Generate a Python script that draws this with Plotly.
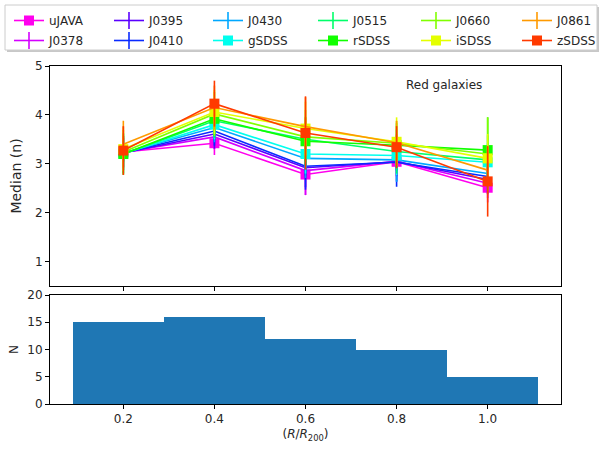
import plotly.graph_objects as go
from plotly.subplots import make_subplots

# ---------------- data ----------------
r_bins = [0.2, 0.4, 0.6, 0.8, 1.0]

filters = ["uJAVA", "J0378", "J0395", "J0410", "J0430", "gSDSS",
           "J0515", "rSDSS", "J0660", "iSDSS", "J0861", "zSDSS"]
broad_bands = ["uJAVA", "gSDSS", "rSDSS", "iSDSS", "zSDSS"]
colors = ["#ff00ee", "#d400ff", "#5a00ff", "#0a2aff", "#00a8ff", "#00ffee",
          "#00ff6a", "#10ff00", "#80ff00", "#e4ff00", "#ff9a00", "#ff3a00"]

median_n = {
    "uJAVA": [3.24, 3.42, 2.78, 3.04, 2.51],
    "J0378": [3.23, 3.55, 2.86, 3.05, 2.60],
    "J0395": [3.22, 3.61, 2.92, 3.04, 2.68],
    "J0410": [3.22, 3.67, 2.95, 3.03, 2.74],
    "J0430": [3.22, 3.74, 3.11, 3.08, 2.80],
    "gSDSS": [3.21, 3.80, 3.20, 3.17, 3.03],
    "J0515": [3.20, 3.88, 3.50, 3.25, 3.08],
    "rSDSS": [3.20, 3.92, 3.46, 3.38, 3.28],
    "J0660": [3.24, 4.02, 3.55, 3.42, 3.20],
    "iSDSS": [3.30, 4.06, 3.72, 3.45, 3.11],
    "J0861": [3.40, 4.15, 3.76, 3.43, 2.87],
    "zSDSS": [3.27, 4.23, 3.63, 3.34, 2.64],
}
median_err = {
    "uJAVA": [0.30, 0.24, 0.42, 0.30, 0.30],
    "J0378": [0.30, 0.25, 0.50, 0.30, 0.30],
    "J0395": [0.30, 0.30, 0.40, 0.40, 0.30],
    "J0410": [0.35, 0.30, 0.48, 0.50, 0.35],
    "J0430": [0.35, 0.30, 0.40, 0.45, 0.35],
    "gSDSS": [0.40, 0.30, 0.40, 0.40, 0.40],
    "J0515": [0.40, 0.35, 0.45, 0.45, 0.50],
    "rSDSS": [0.43, 0.35, 0.50, 0.45, 0.67],
    "J0660": [0.45, 0.45, 0.55, 0.45, 0.75],
    "iSDSS": [0.45, 0.45, 0.55, 0.50, 0.50],
    "J0861": [0.48, 0.45, 0.60, 0.45, 0.50],
    "zSDSS": [0.50, 0.47, 0.75, 0.43, 0.72],
}

hist_edges = [0.09, 0.29, 0.51, 0.71, 0.91, 1.11]
hist_counts = [15, 16, 12, 10, 5]

# ---------------- figure geometry ----------------
W, H = 601, 449
m_l, m_r, m_t, m_b = 50, 40, 66, 45
plot_w = W - m_l - m_r
plot_h = H - m_t - m_b
top_bottom_px = 286   # pixel y of bottom of top panel
bot_top_px = 295      # pixel y of top of bottom panel


def px_x(px):
    return (px - m_l) / plot_w


def px_y(py):
    return (H - m_b - py) / plot_h


fig = make_subplots(rows=2, cols=1, shared_xaxes=False)
fig.layout.yaxis.domain = [px_y(top_bottom_px), 1.0]
fig.layout.yaxis2.domain = [0.0, px_y(bot_top_px)]

font_fam = "DejaVu Sans"
txt_col = "#262626"

# legend layout: 2 rows x 6 columns, filled column-wise (like matplotlib)
legend_col_left = [9, 109, 208, 313, 416, 517]
legend_row_top = [6, 26]

legend_layouts = {}
for i, (name, col) in enumerate(zip(filters, colors)):
    c, r = divmod(i, 2)
    lg = "legend" if i == 0 else f"legend{i + 1}"
    legend_layouts[lg] = dict(
        x=px_x(legend_col_left[c]), y=px_y(legend_row_top[r]),
        xanchor="left", yanchor="top",
        bgcolor="rgba(0,0,0,0)", borderwidth=0,
        font=dict(family=font_fam, size=12, color=txt_col),
        itemwidth=30,
    )
    broad = name in broad_bands
    fig.add_trace(go.Scatter(
        x=r_bins, y=median_n[name], name=name,
        mode="lines+markers",
        line=dict(color=col, width=1.6),
        marker=dict(symbol="square" if broad else "line-ns-open",
                    size=10 if broad else 12, color=col,
                    line=dict(color=col, width=1.6 if not broad else 0)),
        error_y=dict(type="data", array=median_err[name], visible=True,
                     color=col, thickness=1.6, width=0),
        legend=lg,
    ), row=1, col=1)

centers = [(a + b) / 2 for a, b in zip(hist_edges[:-1], hist_edges[1:])]
widths = [b - a for a, b in zip(hist_edges[:-1], hist_edges[1:])]
fig.add_trace(go.Bar(x=centers, y=hist_counts, width=widths,
                     marker=dict(color="#1f77b4", line=dict(width=0)),
                     showlegend=False), row=2, col=1)

xrange = [0.039, 1.161]
axis_common = dict(showline=True, linecolor="black", linewidth=1, mirror=True,
                   ticks="outside", ticklen=4, tickwidth=1, tickcolor="black",
                   showgrid=False, zeroline=False,
                   tickfont=dict(family=font_fam, size=12, color=txt_col))

fig.update_xaxes(**axis_common, range=xrange, tickvals=r_bins,
                 showticklabels=False, row=1, col=1)
fig.update_xaxes(**axis_common, range=xrange, tickvals=r_bins,
                 ticktext=["0.2", "0.4", "0.6", "0.8", "1.0"],
                 title=dict(text="(<i>R</i>/<i>R</i><sub>200</sub>)",
                            font=dict(family=font_fam, size=12, color=txt_col),
                            standoff=4),
                 row=2, col=1)
fig.update_yaxes(**axis_common, range=[0.5, 5], tickvals=[1, 2, 3, 4, 5],
                 title=dict(text="Median (n)",
                            font=dict(family=font_fam, size=14, color=txt_col),
                            standoff=10),
                 row=1, col=1)
fig.update_yaxes(**axis_common, range=[0, 20], tickvals=[0, 5, 10, 15, 20],
                 title=dict(text="N",
                            font=dict(family=font_fam, size=12, color=txt_col),
                            standoff=6),
                 row=2, col=1)

fig.add_annotation(x=0.905, y=4.61, xref="x", yref="y", text="Red galaxies",
                   showarrow=False,
                   font=dict(family=font_fam, size=12, color=txt_col))

# legend frame (matplotlib-style box with soft shadow)
bx0, bx1, by0, by1 = 5, 597, 5, 50
fig.add_shape(type="rect", xref="paper", yref="paper",
              x0=px_x(bx0 + 2), x1=px_x(bx1 + 2),
              y0=px_y(by1 + 2), y1=px_y(by0 + 2),
              fillcolor="#c8c8c8", line=dict(width=0), layer="below")
fig.add_shape(type="rect", xref="paper", yref="paper",
              x0=px_x(bx0), x1=px_x(bx1), y0=px_y(by1), y1=px_y(by0),
              fillcolor="white", line=dict(color="#cccccc", width=1),
              layer="below")

fig.update_layout(
    width=W, height=H,
    margin=dict(l=m_l, r=m_r, t=m_t, b=m_b, autoexpand=False),
    plot_bgcolor="white", paper_bgcolor="white",
    bargap=0, showlegend=True,
    font=dict(family=font_fam, color=txt_col),
    **legend_layouts,
)

fig.write_html("out.html", config={"displayModeBar": False},
               post_script="document.body.style.margin='0px';"
                           "document.body.style.overflow='hidden';")
